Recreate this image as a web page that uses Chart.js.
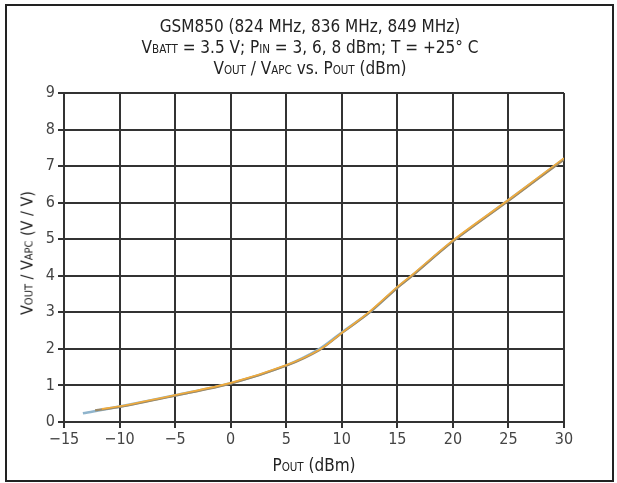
<!DOCTYPE html>
<html>
<head>
<meta charset="utf-8">
<script src="https://cdn.jsdelivr.net/npm/chart.js@4.4.1/dist/chart.umd.min.js"></script>
<style>
  html, body { margin:0; padding:0; background:#fff; }
  #wrap { position:relative; width:617px; height:483px; overflow:hidden; font-family:"Liberation Sans Narrow","DejaVu Sans Condensed","Liberation Sans",sans-serif; color:#222; }
  #frame { position:absolute; left:5px; top:4px; width:609px; height:478px; border:2px solid #222; box-sizing:border-box; pointer-events:none; }
  canvas { position:absolute; left:0; top:0; }
  .t { position:absolute; left:0; width:620px; text-align:center; font-size:17px; line-height:20px; white-space:nowrap; }
  .s { font-size:11.5px; }
  #ytitle { position:absolute; left:27px; top:253px; transform:translate(-50%,-50%) rotate(-90deg); font-size:16px; white-space:nowrap; }
  #ytitle .s { font-size:11px; }
  #xtitle { position:absolute; left:314px; top:465px; transform:translate(-50%,-50%); font-size:17px; white-space:nowrap; }
</style>
</head>
<body>
<div id="wrap">
  <canvas id="c" width="617" height="483"></canvas>
  <div class="t" style="top:16px;">GSM850 (824 MHz, 836 MHz, 849 MHz)</div>
  <div class="t" style="top:37px;">V<span class="s">BATT</span> = 3.5 V; P<span class="s">IN</span> = 3, 6, 8 dBm; T = +25° C</div>
  <div class="t" style="top:58px;">V<span class="s">OUT</span> / V<span class="s">APC</span> vs. P<span class="s">OUT</span> (dBm)</div>
  <div id="ytitle">V<span class="s">OUT</span> / V<span class="s">APC</span> (V / V)</div>
  <div id="xtitle">P<span class="s">OUT</span> (dBm)</div>
  <div id="frame"></div>
</div>
<script>
// Tick values
const xTicks = [-15, -10, -5, 0, 5, 10, 15, 20, 25, 30];
const yTicks = [0, 1, 2, 3, 4, 5, 6, 7, 8, 9];

// Series: PIN = 3 dBm
const pout3 = [-13.3, -10, -5, 0, 5, 8, 10, 12.5, 15, 16.3, 20, 25, 30];
const vr3   = [0.24, 0.42, 0.73, 1.06, 1.55, 2.0, 2.45, 3.0, 3.68, 4.0, 4.95, 6.07, 7.2];
// Series: PIN = 6 dBm
const pout6 = [-11.6, -10, -5, 0, 5, 8, 10, 12.5, 15, 16.3, 20, 25, 30];
const vr6   = [0.36, 0.43, 0.74, 1.07, 1.56, 1.98, 2.44, 3.02, 3.70, 4.02, 4.97, 6.08, 7.22];
// Series: PIN = 8 dBm
const pout8 = [-12.2, -10, -5, 0, 5, 8, 10, 12.5, 15, 16.3, 20, 25, 30];
const vr8   = [0.32, 0.41, 0.72, 1.05, 1.54, 1.97, 2.43, 3.0, 3.67, 3.99, 4.94, 6.05, 7.18];

const toPts = (xs, ys) => xs.map((x, i) => ({ x: x, y: ys[i] }));
const FONT = '"Liberation Sans Narrow","DejaVu Sans Condensed","Liberation Sans",sans-serif';

new Chart(document.getElementById('c'), {
  type: 'line',
  data: {
    datasets: [
      { label: 'PIN = 6 dBm', data: toPts(pout6, vr6), borderColor: '#f2ac3c', borderWidth: 1.6, pointRadius: 0, tension: 0.3, fill: false },
      { label: 'PIN = 8 dBm', data: toPts(pout8, vr8), borderColor: '#9c8a68', borderWidth: 2.2, pointRadius: 0, tension: 0.3, fill: false },
      { label: 'PIN = 3 dBm', data: toPts(pout3, vr3), borderColor: '#8fb4cc', borderWidth: 2.6, pointRadius: 0, tension: 0.3, fill: false }
    ]
  },
  options: {
    responsive: false,
    animation: false,
    events: [],
    layout: { padding: { left: 0, top: 93, right: 53, bottom: 0 } },
    plugins: { legend: { display: false }, title: { display: false }, tooltip: { enabled: false } },
    scales: {
      x: {
        type: 'linear', min: xTicks[0], max: xTicks[xTicks.length - 1],
        afterBuildTicks: (s) => { s.ticks = xTicks.map(v => ({ value: v })); },
        afterFit: (s) => { s.height = 61; },
        grid: { color: '#333', lineWidth: 2, tickLength: 6, drawTicks: true },
        border: { display: true, color: '#333', width: 2 },
        ticks: { color: '#444', font: { family: FONT, size: 16 }, padding: 2, maxRotation: 0,
                 callback: (v) => String(v).replace('-', '\u2212') }
      },
      y: {
        type: 'linear', min: yTicks[0], max: yTicks[yTicks.length - 1],
        afterBuildTicks: (s) => { s.ticks = yTicks.map(v => ({ value: v })); },
        afterFit: (s) => { s.width = 64; },
        grid: { color: '#333', lineWidth: 2, tickLength: 6, drawTicks: true },
        border: { display: true, color: '#333', width: 2 },
        ticks: { color: '#444', font: { family: FONT, size: 16 }, padding: 3 }
      }
    }
  }
});
</script>
</body>
</html>
